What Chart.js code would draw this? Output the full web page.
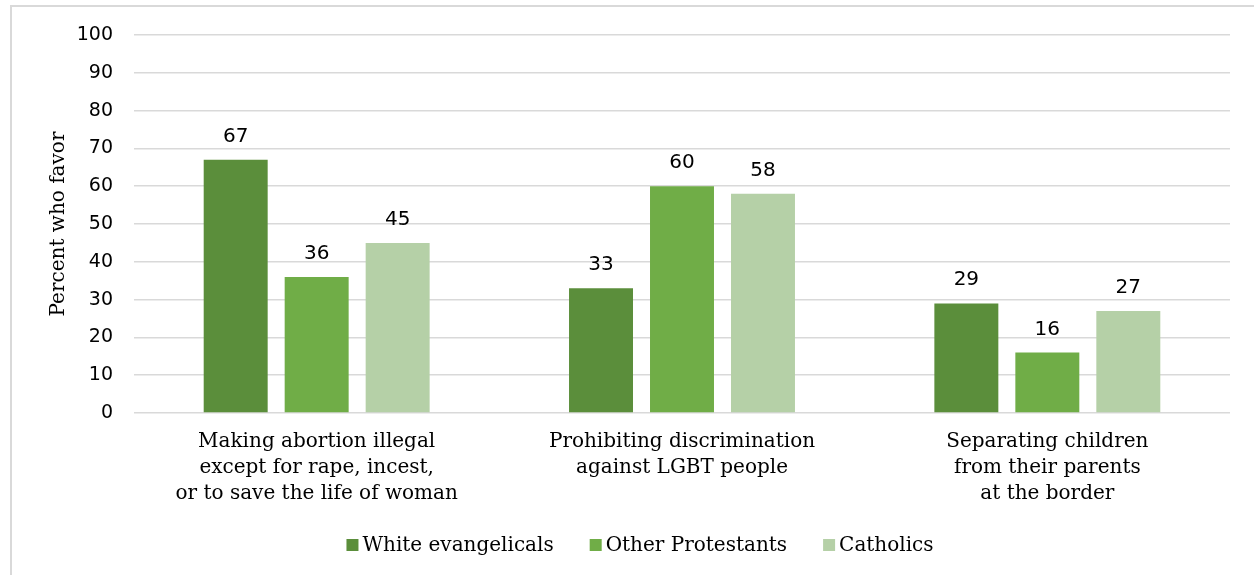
<!DOCTYPE html>
<html>
<head>
<meta charset="utf-8">
<script src="https://cdn.jsdelivr.net/npm/chart.js@4"></script>
<style>
  html, body { margin: 0; padding: 0; background: #ffffff; }
  #wrap { width: 1254px; height: 575px; position: relative; }
</style>
</head>
<body>
<div id="wrap"><canvas id="c" width="1254" height="575"></canvas></div>
<script>
const categories = [
  ["Making abortion illegal", "except for rape, incest,", "or to save the life of woman"],
  ["Prohibiting discrimination", "against LGBT people"],
  ["Separating children", "from their parents", "at the border"]
];
const seriesNames = ["White evangelicals", "Other Protestants", "Catholics"];
const whiteEvangelicals = [67, 33, 29];
const otherProtestants = [36, 60, 16];
const catholics = [45, 58, 27];
const seriesColors = ["#5B8E3B", "#70AD47", "#B5D0A7"];
const yTicks = [0, 10, 20, 30, 40, 50, 60, 70, 80, 90, 100];

const serif = "'DejaVu Serif', serif";
const sans = "'DejaVu Sans', sans-serif";

const frame = {
  id: 'frame',
  beforeDraw(chart) {
    const ctx = chart.ctx;
    ctx.save();
    ctx.fillStyle = '#ffffff';
    ctx.fillRect(0, 0, chart.width, chart.height);
    ctx.strokeStyle = '#d9d9d9';
    ctx.lineWidth = 2;
    ctx.strokeRect(11, 6, chart.width + 50, chart.height + 50);
    ctx.restore();
  }
};

const valueLabels = {
  id: 'valueLabels',
  afterDatasetsDraw(chart) {
    const ctx = chart.ctx;
    ctx.save();
    ctx.font = "20px " + sans;
    ctx.fillStyle = '#000000';
    ctx.textAlign = 'center';
    ctx.textBaseline = 'alphabetic';
    chart.data.datasets.forEach((ds, i) => {
      chart.getDatasetMeta(i).data.forEach((bar, j) => {
        ctx.fillText(String(ds.data[j]), bar.x, bar.y - 18);
      });
    });
    ctx.restore();
  }
};

const customLegend = {
  id: 'customLegend',
  afterDraw(chart) {
    const ctx = chart.ctx;
    ctx.save();
    ctx.font = "20px " + serif;
    ctx.textBaseline = 'middle';
    ctx.textAlign = 'left';
    const box = 12, gapText = 4, gapItem = 36;
    const items = chart.data.datasets.map(ds => ({ label: ds.label, color: ds.backgroundColor, w: ctx.measureText(ds.label).width }));
    let total = 0;
    items.forEach((it, k) => { total += box + gapText + it.w + (k < items.length - 1 ? gapItem : 0); });
    let x = 640 - total / 2;
    const y = 545;
    items.forEach(it => {
      ctx.fillStyle = it.color;
      ctx.fillRect(x, y - box / 2, box, box);
      x += box + gapText;
      ctx.fillStyle = '#000000';
      ctx.fillText(it.label, x, y + 1);
      x += it.w + gapItem;
    });
    ctx.restore();
  }
};

new Chart(document.getElementById('c'), {
  type: 'bar',
  data: {
    labels: categories,
    datasets: [
      { label: seriesNames[0], data: whiteEvangelicals, backgroundColor: seriesColors[0] },
      { label: seriesNames[1], data: otherProtestants, backgroundColor: seriesColors[1] },
      { label: seriesNames[2], data: catholics, backgroundColor: seriesColors[2] }
    ]
  },
  options: {
    responsive: false,
    animation: false,
    devicePixelRatio: 1,
    layout: { padding: { left: 0, right: 24, top: 35, bottom: 62 } },
    datasets: { bar: { categoryPercentage: 0.665, barPercentage: 0.79 } },
    plugins: {
      legend: { display: false },
      tooltip: { enabled: false },
      title: { display: false }
    },
    scales: {
      x: {
        grid: { display: false, drawTicks: false },
        border: { display: false },
        ticks: {
          color: '#000000',
          font: { family: serif, size: 20, lineHeight: 1.3 },
          padding: 16,
          maxRotation: 0,
          autoSkip: false
        },
        afterFit(scale) { scale.height = 100; }
      },
      y: {
        min: 0,
        max: 100,
        afterBuildTicks(scale) { scale.ticks = yTicks.map(v => ({ value: v })); },
        grid: { color: '#d9d9d9', lineWidth: 1.5, drawTicks: false },
        border: { display: false },
        ticks: {
          color: '#000000',
          font: { family: sans, size: 19 },
          padding: 21
        },
        title: {
          display: true,
          text: 'Percent who favor',
          color: '#000000',
          font: { family: serif, size: 20 },
          padding: { top: 47, bottom: 0 }
        },
        afterFit(scale) { scale.width = 134; }
      }
    }
  },
  plugins: [frame, valueLabels, customLegend]
});
</script>
</body>
</html>
